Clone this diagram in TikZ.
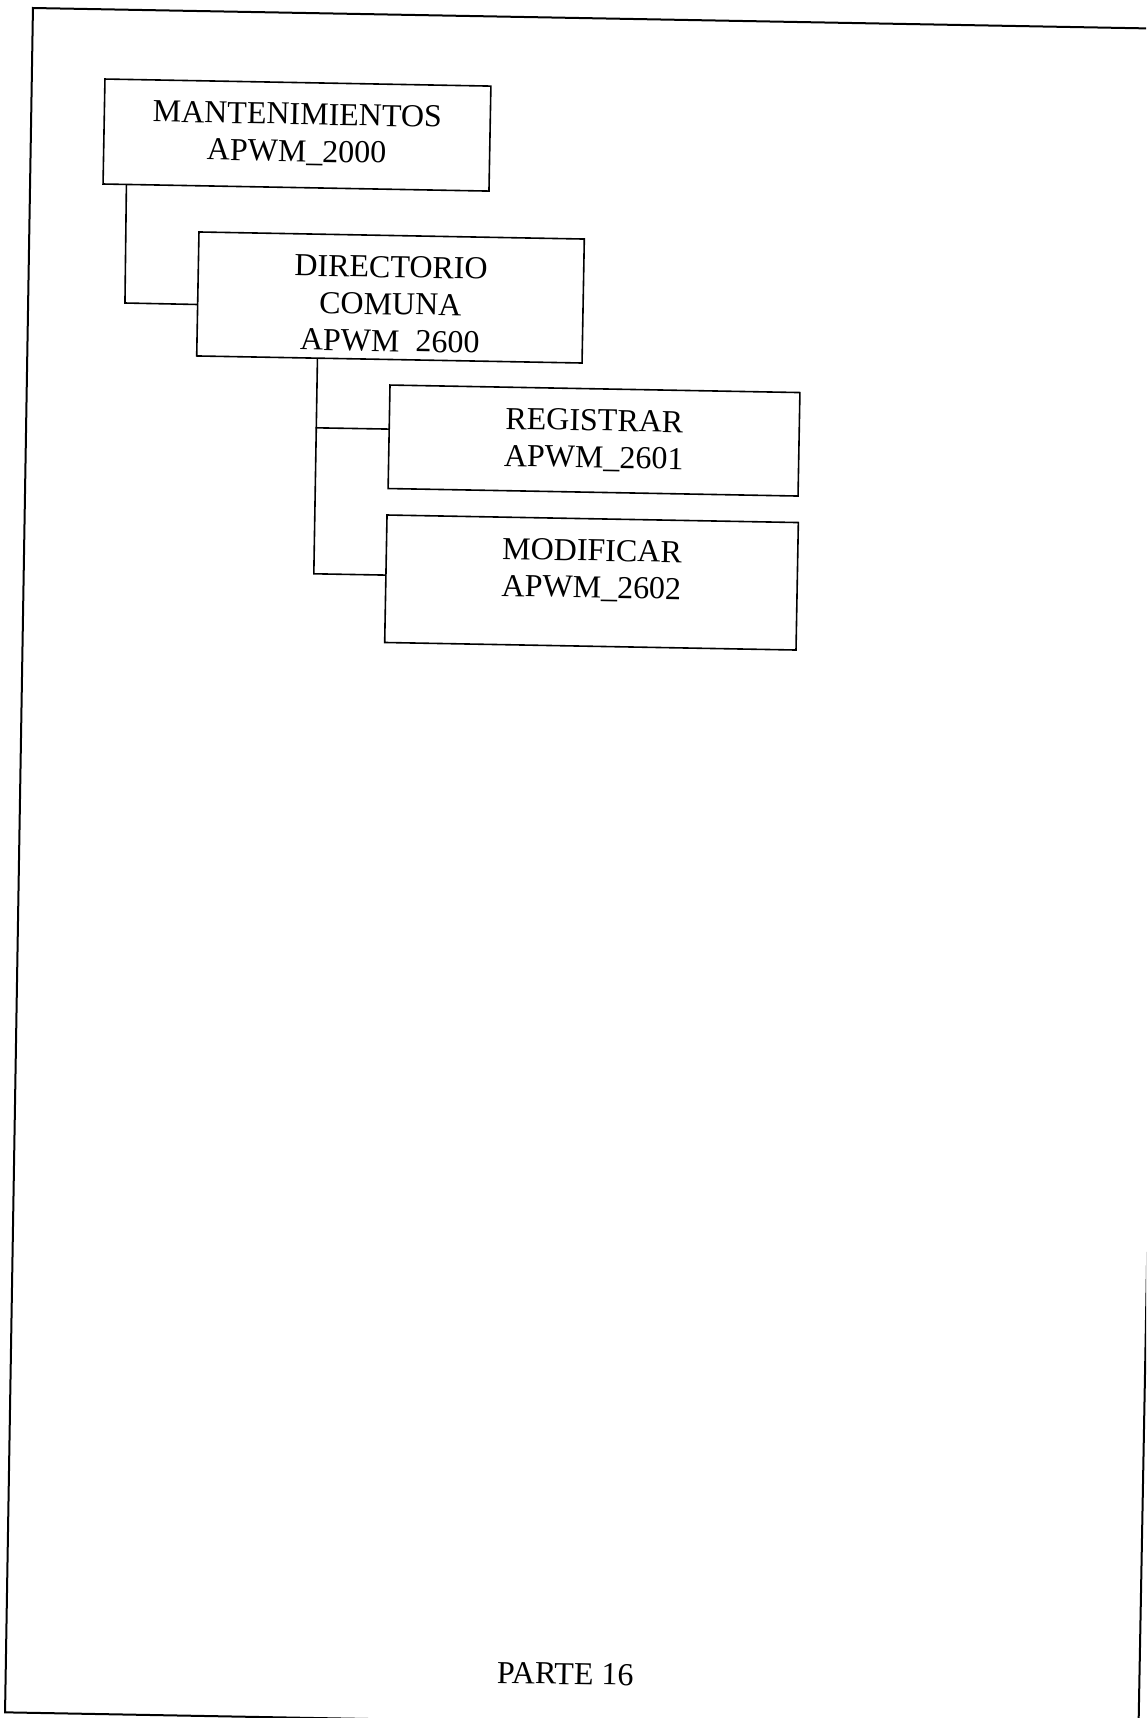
\documentclass[tikz,border=0pt]{standalone}
\usepackage{fontspec}
\setmainfont{Liberation Serif}
\usetikzlibrary{calc}
\newcommand{\bxtxt}[3]{\parbox[c][#2][t]{#1}{\centering\rule{0pt}{42pt}#3}}
\begin{document}
\begin{tikzpicture}[x=1pt,y=-1pt,
  boxst/.style={draw, line width=1.6pt, rectangle, inner sep=0pt, transform shape,
                font=\fontsize{32}{37}\selectfont},
  txtst/.style={inner sep=0pt, transform shape, font=\fontsize{32}{37}\selectfont},
  conn/.style={line width=1.6pt, line cap=rect},
  framest/.style={line width=2pt}]
\useasboundingbox (0,0) rectangle (1146,1718);
\clip (0,0) rectangle (1146,1718);
\begin{scope}[rotate=-1.05]
  % page frame
  \draw[framest] (33.1,7.4) -- (1170,7.4) -- (1170,1712) -- (36.4,1712) -- cycle;
  % boxes
  \node[boxst] (m) at (299.4,129.6) {\bxtxt{386pt}{105pt}{MANTENIMIENTOS\\APWM\_2000}};
  \node[boxst] (d) at (395.9,290.3) {\bxtxt{385.4pt}{124pt}{DIRECTORIO\\COMUNA\\APWM\phantom{\_}2600}};
  \node[boxst] (r) at (602,429.6) {\bxtxt{410pt}{103.5pt}{REGISTRAR\\APWM\_2601}};
  \node[boxst] (o) at (602.1,571.6) {\bxtxt{411.4pt}{127.5pt}{MODIFICAR\\APWM\_2602}};
  % connector bend points
  \coordinate (k1) at (130.5,300.7);
  \coordinate (j1) at (324.3,422);
  \coordinate (k2) at (324.3,568);
  % connectors
  \draw[conn] ($(m.south west)!0.0624!(m.south east)$) -- (k1) -- ($(d.north west)!0.584!(d.south west)$);
  \draw[conn] ($(d.south west)!0.3142!(d.south east)$) -- (k2) -- ($(o.north west)!0.472!(o.south west)$);
  \draw[conn] (j1) -- ($(r.north west)!0.427!(r.south west)$);
  % footer
  \node[txtst, anchor=base] (p) at (595.8,1673.7) {PARTE 16};
\end{scope}
\end{tikzpicture}
\end{document}
